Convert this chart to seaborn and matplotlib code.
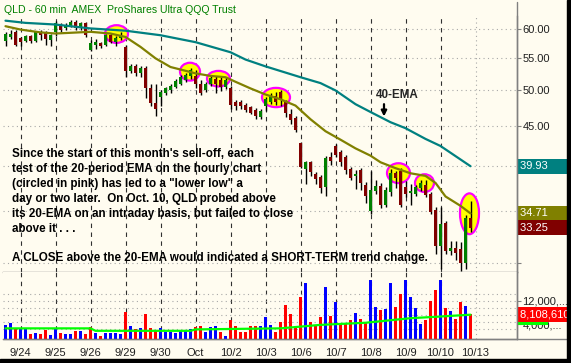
import numpy as np
import matplotlib
matplotlib.use("Agg")
import matplotlib.pyplot as plt
import matplotlib.transforms as mtrans
from matplotlib.patches import Ellipse, Rectangle
from matplotlib.lines import Line2D
from matplotlib.ticker import NullLocator
import seaborn as sns

sns.set_style("white")
plt.rcParams['font.family'] = ['Liberation Sans', 'DejaVu Sans']

# hourly bars of QLD, 9/23 (last 3 bars) .. 10/10
opens = [57.9, 58.6, 59.5, 58.4, 57.9, 58.8, 57.9, 59.5, 59.3, 58.1,
         59.5, 60.8, 60.1, 60.6, 61.3, 60.1, 61.0, 56.4, 57.2, 57.6,
         57.2, 58.9, 57.8, 58.5, 56.9, 53.0, 53.8, 52.7, 53.5, 50.4,
         48.1, 49.0, 49.6, 50.0, 50.5, 51.0, 51.5, 52.2, 52.2, 51.0,
         50.0, 51.0, 51.8, 51.5, 50.5, 50.3, 48.3, 48.3, 47.9, 47.6,
         47.2, 46.2, 47.7, 48.3, 49.2, 49.8, 48.3, 46.6, 46.1, 42.8,
         39.6, 40.4, 39.0, 38.7, 37.5, 41.0, 42.4, 41.7, 41.0, 39.6,
         38.8, 39.5, 37.8, 35.0, 37.1, 37.7, 35.6, 37.0, 39.1, 39.4,
         37.5, 36.9, 36.8, 37.4, 37.8, 36.8, 35.1, 31.5, 33.7, 31.0,
         31.3, 31.2, 30.0, 34.2]
highs = [59.4, 59.9, 59.8, 58.6, 58.9, 58.9, 59.6, 59.8, 59.6, 59.2,
         61.5, 61.0, 61.1, 61.6, 61.6, 61.2, 61.2, 58.0, 58.2, 57.8,
         59.1, 59.3, 58.8, 59.5, 57.2, 54.1, 54.0, 53.8, 53.8, 50.9,
         51.0, 50.0, 50.5, 50.9, 51.7, 52.3, 52.6, 53.4, 53.1, 51.5,
         51.3, 52.4, 52.2, 52.0, 52.0, 50.6, 48.6, 48.6, 48.2, 47.8,
         47.5, 47.3, 49.0, 49.6, 49.7, 50.1, 48.6, 47.3, 46.3, 42.9,
         40.6, 40.6, 39.3, 38.9, 41.1, 41.7, 42.6, 41.9, 41.3, 39.8,
         39.5, 39.7, 38.1, 39.4, 38.3, 38.0, 37.5, 39.6, 39.4, 39.7,
         38.2, 37.9, 37.8, 38.3, 38.3, 37.0, 35.4, 35.4, 33.9, 32.0,
         32.0, 31.9, 34.5, 36.0]
lows = [57.0, 58.3, 57.0, 57.1, 57.7, 57.6, 57.8, 58.1, 57.2, 57.1,
        58.7, 59.4, 59.8, 60.4, 59.9, 59.8, 58.6, 56.2, 56.6, 56.7,
        57.0, 57.5, 57.0, 58.0, 52.0, 52.7, 52.2, 52.0, 48.9, 47.7,
        46.3, 47.8, 49.3, 49.6, 50.3, 50.8, 51.3, 51.8, 50.3, 49.3,
        49.7, 50.6, 49.6, 49.9, 50.2, 47.3, 47.2, 47.3, 46.9, 46.6,
        46.0, 46.0, 47.0, 48.0, 47.9, 47.8, 46.2, 45.3, 44.2, 39.7,
        37.9, 38.8, 37.9, 36.9, 36.6, 40.1, 41.0, 40.0, 39.0, 38.3,
        37.3, 37.2, 35.8, 34.7, 36.8, 35.3, 35.4, 36.6, 37.4, 35.4,
        36.4, 35.6, 36.5, 37.1, 36.4, 34.7, 30.8, 29.4, 30.8, 30.7,
        30.2, 29.3, 29.4, 32.8]
closes = [59.2, 59.2, 57.2, 57.8, 58.8, 57.9, 59.5, 58.9, 58.2, 59.0,
          61.0, 59.8, 60.8, 61.3, 60.2, 61.0, 58.9, 57.6, 57.8, 57.1,
          58.9, 57.8, 58.5, 59.0, 52.9, 53.8, 52.7, 53.5, 50.3, 48.1,
          47.3, 49.7, 50.3, 50.6, 51.4, 52.0, 52.3, 53.1, 51.0, 49.6,
          51.0, 51.9, 51.0, 50.5, 51.5, 47.9, 47.8, 47.7, 47.2, 46.8,
          46.3, 47.1, 48.7, 49.2, 48.3, 48.6, 46.7, 45.8, 44.5, 39.8,
          40.4, 39.3, 38.4, 37.4, 40.9, 40.6, 41.3, 40.4, 39.5, 38.6,
          39.0, 38.0, 36.5, 37.2, 37.6, 35.6, 37.2, 39.1, 38.6, 35.6,
          36.8, 37.1, 37.5, 38.0, 36.7, 34.9, 31.5, 33.6, 31.0, 31.3,
          30.9, 30.0, 34.2, 33.25]
# volume in millions of shares and whether the bar was drawn blue (1) or red (0)
volume = [5.1, 5.7, 3.9, 3.9, 3.9, 2.5, 2.7, 2.5, 3.6, 2.2,
          3.9, 2.7, 2.5, 2.5, 3.3, 3.3, 2.5, 4.4, 2.7, 1.9,
          2.7, 2.7, 2.7, 2.4, 8.7, 4.8, 3.9, 4.1, 8.2, 4.1,
          3.6, 4.1, 3.0, 3.0, 2.7, 3.3, 3.6, 3.8, 4.6, 4.8,
          3.1, 4.4, 4.8, 3.1, 1.9, 6.5, 4.8, 3.1, 3.1, 4.8,
          4.8, 4.8, 7.3, 5.1, 3.1, 6.0, 10.8, 8.2, 4.8, 13.0,
          17.0, 6.0, 5.1, 7.4, 16.0, 7.6, 11.5, 5.5, 5.5, 6.5,
          8.6, 6.8, 5.5, 18.0, 10.3, 9.3, 9.6, 17.0, 10.3, 14.0,
          18.0, 13.0, 10.0, 5.3, 6.5, 11.9, 15.0, 18.0, 9.8, 9.1,
          6.8, 11.7, 10.6, 8.11]
vol_up = [1, 1, 0, 1, 1, 0, 1, 0, 0, 1,
          1, 0, 1, 1, 0, 1, 0, 0, 1, 0,
          1, 1, 1, 1, 0, 1, 0, 1, 0, 0,
          0, 1, 1, 1, 1, 1, 1, 1, 0, 0,
          1, 1, 1, 0, 1, 0, 0, 0, 0, 0,
          0, 1, 1, 1, 0, 0, 0, 0, 0, 0,
          1, 0, 0, 0, 1, 0, 1, 0, 0, 0,
          1, 0, 0, 1, 1, 0, 1, 1, 0, 0,
          1, 1, 1, 1, 0, 0, 0, 1, 0, 1,
          0, 0, 1, 0]

# moving averages read at selected bars
ema20_idx = [0, 3, 7, 10, 17, 21, 24, 27, 30, 33, 36, 38, 41, 44, 46, 49, 52, 55,
             58, 61, 64, 67, 70, 73, 75, 78, 81, 84, 86, 88, 91, 93]
ema20 = [60.5, 59.9, 59.4, 59.2, 59.5, 59.2, 58.6, 56.9, 55.0, 53.6, 53.0, 52.6, 52.2,
         52.0, 51.3, 50.3, 49.4, 48.7, 47.8, 45.9, 44.3, 43.2, 42.1, 41.2, 40.4, 39.7,
         39.1, 38.8, 38.0, 36.5, 35.5, 34.71]
ema40_idx = [0, 4, 10, 17, 24, 31, 38, 45, 48, 52, 59, 63, 66, 70, 73, 77, 80, 84, 87, 93]
ema40 = [61.5, 61.1, 60.8, 60.1, 59.7, 58.9, 57.7, 56.0, 54.8, 53.7, 52.0, 51.1, 50.0,
         48.0, 46.9, 45.5, 44.7, 43.3, 42.4, 39.93]
vma_idx = [0, 17, 18, 37, 38, 55, 63, 72, 81, 86, 93]
vma = [4.1, 4.1, 3.4, 3.4, 3.8, 4.1, 5.1, 5.7, 7.0, 7.4, 8.0]

day_labels = ['9/24', '9/25', '9/26', '9/29', '9/30', 'Oct', '10/2', '10/3',
              '10/6', '10/7', '10/8', '10/9', '10/10', '10/13']
day_idx = [3 + 7 * k for k in range(len(day_labels))]

# pink circles: bar index, top price, bottom price, width in bars
circ_idx = [22.2, 36.9, 42.6, 54.1, 78.6, 83.8, 92.8]
circ_top = [60.7, 54.3, 53.0, 50.4, 40.3, 39.0, 36.9]
circ_bot = [57.6, 51.5, 50.6, 47.6, 38.0, 37.0, 32.7]
circ_w = [4.6, 4.0, 4.6, 5.6, 4.6, 3.8, 3.8]

note_lines = ["Since the start of this month's sell-off, each",
              "test of the 20-period EMA on the hourly chart",
              "(circled in pink) has led to a \"lower low\" a",
              "day or two later.  On Oct. 10, QLD probed above",
              "its 20-EMA on an intraday basis, but failed to close",
              "above it . . ."]
note_last = "A CLOSE above the 20-EMA would indicated a SHORT-TERM trend change."

W, H = 571, 363
BG = '#FFFCF0'
fig = plt.figure(figsize=(W / 100, H / 100), dpi=100, facecolor=BG)


def px_box(l, t, r, b):
    return [l / W, 1 - b / H, (r - l) / W, (b - t) / H]


ax = fig.add_axes(px_box(3, 16, 517, 272))
axv = fig.add_axes(px_box(3, 272, 517, 339), sharex=ax)
for a in (ax, axv):
    a.set_facecolor(BG)
    for s in ('top', 'left'):
        a.spines[s].set_visible(False)
    for s in ('right', 'bottom'):
        a.spines[s].set_color('#808080')
        a.spines[s].set_linewidth(1.0)

x = np.arange(len(opens))
o = np.array(opens)
c = np.array(closes)
up = c >= o

ax.set_yscale('log')
ax.set_ylim(29.17, 62.36)
ax.set_xlim(-0.5, 102.3)

for p in [30, 35, 40, 45, 50, 55, 60]:
    ax.axhline(p, color='#A8A8A8', ls=(0, (1, 3)), lw=0.8, zorder=1)
for t in day_idx[:-1]:
    ax.axvline(t, color='#303030', ls=(0, (4, 4)), lw=0.8, zorder=1)
    axv.axvline(t, color='#303030', ls=(0, (4, 4)), lw=0.8, zorder=1)
ax.axvline(day_idx[-1], color='#A8A8A8', ls=(0, (1, 3)), lw=0.8, zorder=1)
axv.axvline(day_idx[-1], color='#A8A8A8', ls=(0, (1, 3)), lw=0.8, zorder=1)

for ci, ct, cb, cw in zip(circ_idx, circ_top, circ_bot, circ_w):
    e = Ellipse((ci, np.sqrt(ct * cb)), cw, ct - cb, facecolor='#FFFF00',
                edgecolor='#FF00FF', lw=1.6, zorder=3)
    ax.add_patch(e)

ax.vlines(x, lows, highs, color='black', lw=1.0, zorder=4)
ax.bar(x, np.abs(c - o), bottom=np.minimum(o, c), width=0.72, linewidth=0,
       color=np.where(up, '#008000', '#800000'), zorder=5)

sns.lineplot(x=ema40_idx, y=ema40, ax=ax, color='#008080', lw=1.6, zorder=6, legend=False)
sns.lineplot(x=ema20_idx, y=ema20, ax=ax, color='#808000', lw=1.6, zorder=6, legend=False)

ax.yaxis.tick_right()
ax.set_yticks([30, 35, 40, 45, 50, 55, 60])
ax.set_yticklabels(['', '35.00', '40.00', '45.00', '50.00', '55.00', '60.00'])
ax.yaxis.set_minor_locator(NullLocator())
ax.tick_params(axis='y', direction='out', length=3, color='#808080', labelsize=8,
               pad=1, labelcolor='#202020')
ax.tick_params(axis='x', bottom=False, labelbottom=False)
ax.set_xlabel('')
ax.set_ylabel('')

# volume panel
vol = np.array(volume) * 1e6
axv.set_ylim(1.06e6, 20.2e6)
for g in [4e6, 6e6, 8e6, 10e6, 12e6, 14e6]:
    axv.axhline(g, color='#A8A8A8', ls=(0, (1, 3)), lw=0.8, zorder=1)
axv.bar(x, vol, width=0.72, linewidth=0,
        color=np.where(np.array(vol_up) == 1, '#0000FF', '#FF0000'), zorder=4)
sns.lineplot(x=vma_idx, y=np.array(vma) * 1e6, ax=axv, color='#00FF00', lw=1.6,
             zorder=5, legend=False)
axv.yaxis.tick_right()
axv.set_yticks([5.3e6, 12e6])
axv.set_yticklabels(['4,000,...', '12,000,...'])
axv.yaxis.set_minor_locator(NullLocator())
axv.tick_params(axis='y', direction='out', length=3, color='#808080', labelsize=8,
                pad=1, labelcolor='#202020')
axv.set_xticks(day_idx)
axv.set_xticklabels(day_labels)
axv.tick_params(axis='x', direction='out', length=3.5, color='#606060', labelsize=8,
                pad=3, labelcolor='#202020')
axv.set_xlabel('')
axv.set_ylabel('')


# value boxes on the right axis
def value_box(a, val, txt, fc):
    tr = mtrans.blended_transform_factory(a.transAxes, a.transData)
    a.text(1.006, val, txt + '        ', transform=tr, ha='left', va='center',
           color='white', fontsize=8, clip_on=False, zorder=10,
           bbox=dict(boxstyle='square,pad=0.22', fc=fc, ec='none'))


value_box(ax, ema40[-1], '%.2f' % ema40[-1], '#008080')
value_box(ax, ema20[-1], '%.2f' % ema20[-1], '#808000')
value_box(ax, closes[-1], '%.2f' % closes[-1], '#800000')
value_box(axv, vma[-1] * 1e6 * 0.9, '', '#00FF00')
value_box(axv, volume[-1] * 1e6, '8,108,610', '#FF0000')

# annotations
fig.text(4 / W, 1 - 10 / H, 'QLD - 60 min  AMEX  ProShares Ultra QQQ Trust',
         color='#008000', fontsize=7.6, va='center', ha='left')
for k, line in enumerate(note_lines):
    fig.text(12 / W, 1 - (157 + 15 * k) / H, line, fontsize=8.4, fontweight='bold',
             color='black', va='baseline', ha='left', zorder=8)
fig.text(12 / W, 1 - 261 / H, note_last, fontsize=8.4, fontweight='bold',
         color='black', va='baseline', ha='left', zorder=8)

ax.text(78.3, 49.3, '40-EMA', fontsize=8.4, fontweight='bold', ha='center',
        va='center', zorder=8)
ax.annotate('', xy=(75.7, 45.9), xytext=(75.7, 48.4),
            arrowprops=dict(arrowstyle='-|>', color='black', lw=1.6, mutation_scale=8),
            zorder=8)

# frame pieces
fig.add_artist(Line2D([517 / W, 517 / W], [1 - 339 / H, 1 - 2 / H], color='#808080',
                      lw=1.0, transform=fig.transFigure))
fig.add_artist(Line2D([3 / W, 567 / W], [1 - 339 / H, 1 - 339 / H], color='#808080',
                      lw=1.0, transform=fig.transFigure))
fig.add_artist(Rectangle((567 / W, 0), 4 / W, 1, transform=fig.transFigure,
                         color='black', zorder=20))
fig.add_artist(Rectangle((0, 0), 1, 4 / H, transform=fig.transFigure,
                         color='black', zorder=20))

fig.savefig('out.png', dpi=100, facecolor=BG)
